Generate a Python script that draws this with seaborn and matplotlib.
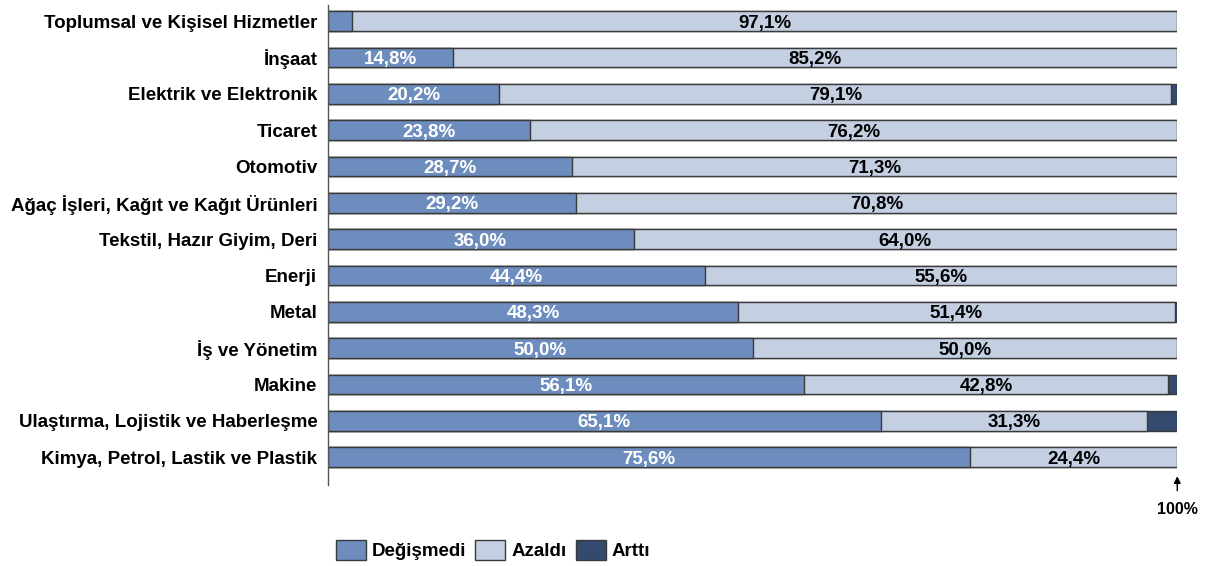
import pandas as pd
import matplotlib.pyplot as plt
import seaborn as sns
from matplotlib.patches import Patch

# ---------------------------------------------------------------------------
# Data (percent of firms by sector)
# ---------------------------------------------------------------------------
sectors = ['Toplumsal ve Kişisel Hizmetler', 'İnşaat', 'Elektrik ve Elektronik',
           'Ticaret', 'Otomotiv', 'Ağaç İşleri, Kağıt ve Kağıt Ürünleri',
           'Tekstil, Hazır Giyim, Deri', 'Enerji', 'Metal', 'İş ve Yönetim',
           'Makine', 'Ulaştırma, Lojistik ve Haberleşme',
           'Kimya, Petrol, Lastik ve Plastik']
degismedi = [2.9, 14.8, 20.2, 23.8, 28.7, 29.2, 36.0, 44.4, 48.3, 50.0, 56.1, 65.1, 75.6]
azaldi = [97.1, 85.2, 79.1, 76.2, 71.3, 70.8, 64.0, 55.6, 51.4, 50.0, 42.8, 31.3, 24.4]
artti = [0.0, 0.0, 0.7, 0.0, 0.0, 0.0, 0.0, 0.0, 0.3, 0.0, 1.1, 3.6, 0.0]
series_names = ['Değişmedi', 'Azaldı', 'Arttı']

C_DEG = '#6c8dbd'
C_AZA = '#c4cfe2'
C_ART = '#34496e'
EDGE = '#3a3a3a'
FS = 13.5

df = pd.DataFrame({'sector': sectors, 'deg': degismedi, 'aza': azaldi, 'art': artti})
df['cum_aza'] = df['deg'] + df['aza']
df['cum_art'] = df['cum_aza'] + df['art']

sns.set_style('white')
plt.rcParams['font.family'] = ['Liberation Sans', 'DejaVu Sans']
plt.rcParams['text.color'] = 'black'
plt.rcParams['ytick.color'] = 'black'

fig = plt.figure(figsize=(12.05, 5.66), dpi=100)
ax = fig.add_axes([0.272, 0.143, 0.705, 0.848])

# stacked bars drawn as overlapping cumulative layers
bar_kw = dict(orient='h', width=0.54, saturation=1, edgecolor=EDGE, linewidth=1, ax=ax)
sns.barplot(data=df, x='cum_art', y='sector', color=C_ART, **bar_kw)
sns.barplot(data=df, x='cum_aza', y='sector', color=C_AZA, **bar_kw)
sns.barplot(data=df, x='deg', y='sector', color=C_DEG, **bar_kw)


def pct(v):
    return f'{v:.1f}'.replace('.', ',') + '%'


for i, row in df.iterrows():
    if row['deg'] >= 5:
        ax.text(row['deg'] / 2, i, pct(row['deg']), ha='center', va='center_baseline',
                color='white', fontsize=FS, fontweight='bold')
    ax.text(row['deg'] + row['aza'] / 2, i, pct(row['aza']), ha='center',
            va='center_baseline', color='black', fontsize=FS, fontweight='bold')

ax.set_xlim(0, 100)
ax.set_ylim(12.77, -0.44)
ax.set_xlabel('')
ax.set_ylabel('')
ax.set_xticks([])
for s in ['top', 'right', 'bottom']:
    ax.spines[s].set_visible(False)
ax.spines['left'].set_color('#555555')
ax.spines['left'].set_linewidth(1)
ax.tick_params(axis='y', left=False, pad=4, labelsize=FS, labelcolor='black')
for lbl in ax.get_yticklabels():
    lbl.set_fontweight('bold')

# 100% marker
ax.annotate('', xy=(100, 12.45), xytext=(100, 13.0), annotation_clip=False,
            arrowprops=dict(arrowstyle='-|>', color='black', lw=1, mutation_scale=10))
ax.text(100, 13.45, '100%', ha='center', va='center', fontsize=11.5,
        fontweight='bold', clip_on=False)

handles = [Patch(facecolor=c, edgecolor=EDGE, linewidth=1) for c in (C_DEG, C_AZA, C_ART)]
fig.legend(handles, series_names, loc='center', bbox_to_anchor=(0.409, 0.028), ncol=3,
           frameon=False, prop=dict(weight='bold', size=13.5), handlelength=1.6,
           handleheight=1.25, handletextpad=0.3, columnspacing=0.5)

fig.savefig('out.png', dpi=100)
